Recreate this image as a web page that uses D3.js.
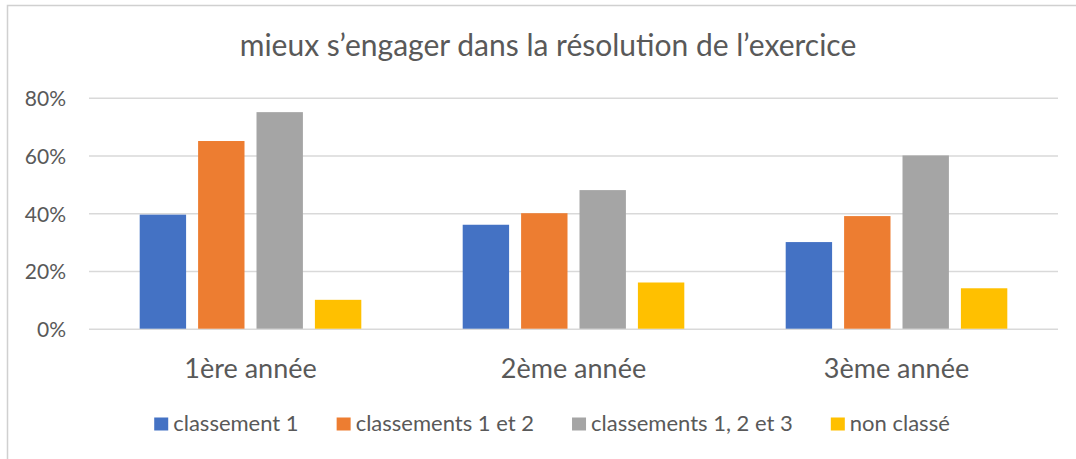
<!DOCTYPE html>
<meta charset="utf-8">
<script src="https://d3js.org/d3.v7.min.js"></script>
<style>
  body { margin: 0; background: #fff; }
  text { font-family: Lato, "Open Sans", sans-serif; fill: #595959; }
</style>
<div id="chart"></div>
<script>

// data
var categories = ["1ère année", "2ème année", "3ème année"];
var series = ["classement 1", "classements 1 et 2", "classements 1, 2 et 3", "non classé"];
var colors = ["#4472C4", "#ED7D31", "#A5A5A5", "#FFC000"];
var classement1 = [0.395, 0.36, 0.30];
var classement12 = [0.65, 0.40, 0.39];
var classement123 = [0.75, 0.48, 0.60];
var nonClasse = [0.10, 0.16, 0.14];
var yTicks = [0, 0.2, 0.4, 0.6, 0.8];
var title = "mieux s’engager dans la résolution de l’exercice";

var values = [classement1, classement12, classement123, nonClasse];

var W = 1076, H = 459;
var margin = {left: 89, right: 18, top: 98, bottom: 130};

var svg = d3.select("#chart").append("svg")
  .attr("width", W).attr("height", H);

// outer chart border (cropped at the right and bottom)
svg.append("rect")
  .attr("x", 7.5).attr("y", 5.5)
  .attr("width", 1100).attr("height", 500)
  .attr("fill", "none").attr("stroke", "#d0d0d0").attr("stroke-width", 1.5);

// title
svg.append("text")
  .attr("x", 548).attr("y", 56)
  .attr("text-anchor", "middle")
  .style("font-size", "30px")
  .text(title);

var x0 = d3.scaleBand()
  .domain(categories)
  .range([margin.left, W - margin.right])
  .paddingInner(0).paddingOuter(0);

var x1 = d3.scaleBand()
  .domain(series)
  .range([0, x0.bandwidth()])
  .paddingInner(0.2055)
  .paddingOuter(0.868);

var y = d3.scaleLinear()
  .domain([0, 0.8])
  .range([328.7, 97.7]);

// gridlines + y labels
var yAxis = d3.axisLeft(y)
  .tickValues(yTicks)
  .tickFormat(d3.format(".0%"))
  .tickSize(-(x0.range()[1] - margin.left))
  .tickPadding(23);

var gy = svg.append("g")
  .attr("transform", "translate(" + margin.left + ",0)")
  .call(yAxis);
gy.select(".domain").remove();
gy.selectAll("line").attr("stroke", "#d9d9d9").attr("stroke-width", 1.5);
gy.selectAll("text")
  .style("font-size", "21px")
  .style("font-family", "Lato, sans-serif")
  .attr("fill", "#595959")
  .attr("dy", "0.38em");

// bars
var groups = svg.selectAll("g.cat")
  .data(categories)
  .enter().append("g")
  .attr("class", "cat")
  .attr("transform", function(d) { return "translate(" + x0(d) + ",0)"; });

groups.selectAll("rect")
  .data(function(d, i) {
    return series.map(function(s, j) { return {s: s, j: j, v: values[j][i]}; });
  })
  .enter().append("rect")
  .attr("x", function(d) { return x1(d.s); })
  .attr("width", x1.bandwidth())
  .attr("y", function(d) { return y(d.v); })
  .attr("height", function(d) { return y(0) - y(d.v); })
  .attr("fill", function(d) { return colors[d.j]; });

// category labels
var gx = svg.append("g")
  .attr("transform", "translate(0," + y(0) + ")")
  .call(d3.axisBottom(x0).tickSize(0).tickPadding(0));
gx.select(".domain").remove();
gx.selectAll("text")
  .style("font-size", "27px")
  .style("font-family", "Lato, sans-serif")
  .attr("fill", "#595959")
  .attr("dy", null)
  .attr("y", 49.5);

// legend
var legend = svg.append("g");
var items = legend.selectAll("g")
  .data(series)
  .enter().append("g");
items.append("rect")
  .attr("width", 14).attr("height", 13)
  .attr("y", 417.5)
  .attr("fill", function(d, i) { return colors[i]; });
items.append("text")
  .attr("x", 19).attr("y", 431)
  .style("font-size", "22px")
  .text(function(d) { return d; });

var pos = 0;
items.each(function() {
  var g = d3.select(this);
  g.attr("data-x", pos);
  pos += 19 + g.select("text").node().getComputedTextLength() + 38;
});
var total = pos - 38;
var start = 552 - total / 2;
items.attr("transform", function() {
  return "translate(" + (start + (+this.getAttribute("data-x"))) + ",0)";
});

</script>
